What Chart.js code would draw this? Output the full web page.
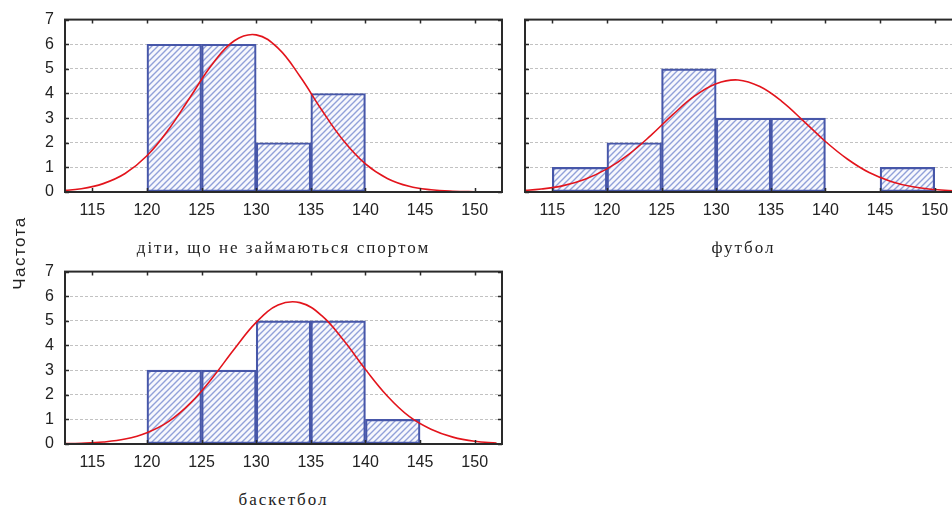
<!DOCTYPE html>
<html>
<head>
<meta charset="utf-8">
<script src="https://cdn.jsdelivr.net/npm/chart.js@4.4.1/dist/chart.umd.min.js"></script>
<style>
  html, body { margin: 0; padding: 0; background: #fff; }
  #wrap { position: relative; width: 952px; height: 506px; overflow: hidden; }
  #wrap canvas { position: absolute; }
  .title {
    position: absolute;
    font-family: 'Liberation Serif', 'Times New Roman', serif;
    font-size: 17px;
    line-height: 20px;
    letter-spacing: 2px;
    color: #222;
    text-align: center;
    white-space: nowrap;
  }
  #ylab {
    position: absolute;
    left: -30px; top: 243px; width: 100px; height: 20px;
    line-height: 20px;
    font-family: 'Liberation Sans', Arial, sans-serif;
    font-size: 17px;
    letter-spacing: 1.5px;
    color: #222;
    text-align: center;
    transform: rotate(-90deg);
  }
</style>
</head>
<body>
<div id="wrap">
  <canvas id="noSport" width="485" height="223" style="left:25px; top:-1px"></canvas>
  <canvas id="football" width="485" height="223" style="left:485px; top:-1px"></canvas>
  <canvas id="basketball" width="485" height="223" style="left:25px; top:251px"></canvas>
  <div class="title" style="left:65px; width:437px; top:238px">діти, що не займаються спортом</div>
  <div class="title" style="left:525px; width:437px; top:238px">футбол</div>
  <div class="title" style="left:65px; width:437px; top:490px">баскетбол</div>
  <div id="ylab">Частота</div>
</div>
<script>
// histogram bins (midpoints of 5-unit classes) and counts
const binMids = [117.5, 122.5, 127.5, 132.5, 137.5, 142.5, 147.5];
const noSportCounts = [0, 6, 6, 2, 4, 0, 0];
const footballCounts = [1, 2, 5, 3, 3, 0, 1];
const basketballCounts = [0, 3, 3, 5, 5, 1, 0];

// fitted normal curves
const curveX = [112, 114, 116, 118, 120, 122, 124, 126, 128, 130, 132, 134, 136, 138, 140, 142, 144, 146, 148, 150, 152];
const noSportCurve = [0.05, 0.13, 0.34, 0.75, 1.47, 2.55, 3.88, 5.2, 6.14, 6.38, 5.84, 4.7, 3.33, 2.08, 1.14, 0.55, 0.23, 0.09, 0.03, 0.01, 0];
const footballCurve = [0.05, 0.12, 0.26, 0.52, 0.94, 1.53, 2.29, 3.13, 3.89, 4.4, 4.55, 4.28, 3.68, 2.88, 2.05, 1.34, 0.79, 0.43, 0.21, 0.1, 0.04];
const basketballCurve = [0.01, 0.03, 0.08, 0.2, 0.46, 0.92, 1.67, 2.69, 3.86, 4.94, 5.64, 5.74, 5.21, 4.21, 3.03, 1.95, 1.12, 0.6, 0.28, 0.11, 0.04];

const xTicks = [115, 120, 125, 130, 135, 140, 145, 150];
const yTicks = [0, 1, 2, 3, 4, 5, 6, 7];

const sansFont = "'Liberation Sans', Arial, sans-serif";

// hatched fill like the original bars
function hatchPattern(ctx) {
    const tile = document.createElement('canvas');
    tile.width = 6;
    tile.height = 6;
    const g = tile.getContext('2d');
    g.fillStyle = '#f7f8fd';
    g.fillRect(0, 0, 6, 6);
    g.strokeStyle = '#91a1d9';
    g.lineWidth = 1.4;
    g.beginPath();
    g.moveTo(0, 6); g.lineTo(6, 0);
    g.moveTo(-1, 1); g.lineTo(1, -1);
    g.moveTo(5, 7); g.lineTo(7, 5);
    g.stroke();
    return ctx.createPattern(tile, 'repeat');
}

// box around the plot with small inward ticks on all sides
const framePlugin = {
    id: 'frame',
    afterDatasetsDraw(chart) {
        const { ctx, chartArea: a, scales: { x, y } } = chart;
        ctx.save();
        ctx.strokeStyle = '#2a2a2a';
        ctx.lineWidth = 1.5;
        ctx.beginPath();
        x.ticks.forEach(t => {
            const px = Math.round(x.getPixelForValue(t.value)) + 0.5;
            ctx.moveTo(px, a.top); ctx.lineTo(px, a.top + 4);
            ctx.moveTo(px, a.bottom); ctx.lineTo(px, a.bottom - 4);
        });
        y.ticks.forEach(t => {
            const py = Math.round(y.getPixelForValue(t.value)) + 0.5;
            ctx.moveTo(a.left, py); ctx.lineTo(a.left + 4, py);
            ctx.moveTo(a.right, py); ctx.lineTo(a.right - 4, py);
        });
        ctx.stroke();
        ctx.lineWidth = 2;
        ctx.strokeRect(a.left, a.top, a.right - a.left, a.bottom - a.top);
        ctx.restore();
    }
};

function makePanel(canvasId, counts, curve, showYLabels) {
    const ctx = document.getElementById(canvasId).getContext('2d');
    const bars = binMids
        .map((m, i) => ({ x: m, y: counts[i] }))
        .filter(p => p.y > 0);
    const line = curveX.map((v, i) => ({ x: v, y: curve[i] }));

    return new Chart(ctx, {
        data: {
            datasets: [{
                type: 'line',
                data: line,
                borderColor: '#e3141c',
                borderWidth: 1.6,
                pointRadius: 0,
                tension: 0.4,
                fill: false,
                order: 0
            }, {
                type: 'bar',
                data: bars,
                backgroundColor: hatchPattern(ctx),
                borderColor: '#4757a9',
                borderWidth: 2.2,
                borderSkipped: false,
                barPercentage: 1,
                categoryPercentage: 1,
                grouped: false,
                order: 1
            }]
        },
        options: {
            responsive: false,
            animation: false,
            events: [],
            layout: { padding: { top: 16.5, right: 8, left: 0, bottom: 0 } },
            plugins: { legend: { display: false }, tooltip: { enabled: false } },
            scales: {
                x: {
                    type: 'linear',
                    offset: false,
                    min: 112.5,
                    max: 152.5,
                    afterBuildTicks: s => { s.ticks = xTicks.map(v => ({ value: v })); },
                    afterFit: s => { s.height = 30; },
                    grid: { display: false, drawTicks: false },
                    border: { display: false },
                    ticks: { color: '#222', font: { family: sansFont, size: 16 }, padding: 9, maxRotation: 0, autoSkip: false }
                },
                y: {
                    type: 'linear',
                    min: 0,
                    max: 7,
                    afterBuildTicks: s => { s.ticks = yTicks.map(v => ({ value: v })); },
                    afterFit: s => { s.width = 40; },
                    grid: {
                        color: c => (c.tick.value === 0 || c.tick.value === 7) ? 'rgba(0,0,0,0)' : '#c2c2c2',
                        lineWidth: 1,
                        drawTicks: false
                    },
                    border: { display: false, dash: [3, 2] },
                    ticks: { color: showYLabels ? '#222' : 'rgba(0,0,0,0)', font: { family: sansFont, size: 16 }, padding: 11 }
                }
            }
        },
        plugins: [framePlugin]
    });
}

makePanel('noSport', noSportCounts, noSportCurve, true);
makePanel('football', footballCounts, footballCurve, false);
makePanel('basketball', basketballCounts, basketballCurve, true);
</script>
</body>
</html>
